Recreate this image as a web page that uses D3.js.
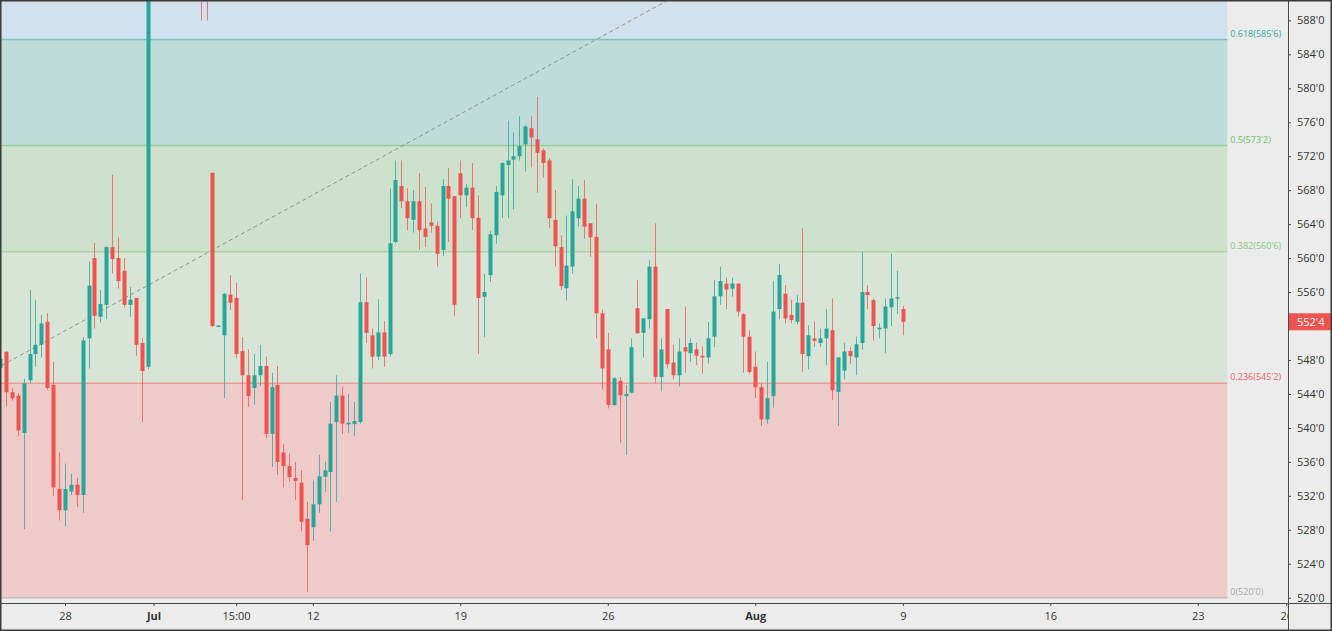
<!DOCTYPE html>
<html><head><meta charset="utf-8">
<script src="https://cdn.jsdelivr.net/npm/d3@7"></script>
<style>html,body{margin:0;padding:0;background:#ececec;overflow:hidden;} svg{display:block;}</style>
</head><body>
<svg id="c" width="1332" height="631"></svg>
<script>
// ---- data (bar index 0..153, ~5 bars per trading day) ----
const opens = [547.05,548.97,544.2,543.8,539.4,545.6,548.7,549.8,552.5,545.05,
532.8,530.3,532.5,533.3,532.1,550.55,560.0,553.1,554.5,561.3,
560.0,558.5,554.5,555.3,550.0,547.2,641,636,632,638,
634,624,628,610,602,596,570.05,552.0,550.9,555.7,
555.3,549.05,546.2,544.7,546.2,547.3,539.3,545.05,537.1,535.5,
534.1,533.55,529.3,528.3,531.0,534.25,534.8,540.7,543.8,540.5,
540.45,540.7,554.8,550.9,548.4,551.25,548.7,561.9,568.5,566.7,
564.5,566.7,563.5,564.2,563.8,560.95,568.5,567.3,570.0,567.4,
568.3,564.75,555.45,558.0,562.7,567.4,570.95,571.6,572.0,573.4,
575.3,574.0,572.7,571.5,564.5,561.3,556.45,559.0,564.7,567.0,
564.1,562.5,553.5,549.25,542.7,545.55,543.75,544.15,554.1,551.2,
552.8,559.0,546.0,554.0,547.7,546.2,549.5,548.8,549.25,548.5,
548.3,550.75,555.5,557.0,556.4,557.0,553.4,550.75,547.2,544.8,
541.0,543.75,554.0,555.8,553.3,552.5,554.75,548.45,550.55,550.0,
550.55,551.5,544.25,546.75,549.05,548.3,550.0,556.0,555.05,551.7,
551.7,554.2,555.3,554.0];
const highs = [548.9,549.0,544.7,544.1,545.8,556.3,555.1,553.3,553.5,547.8,
537.1,535.8,534.6,534.1,550.7,559.6,561.8,556.3,561.4,569.8,
562.45,560.0,556.6,555.3,550.55,652,648,644,640,646,
640,632,636,620,608,600,570.1,552.1,555.9,558.0,
557.1,550.7,549.25,548.7,549.8,548.4,546.5,547.3,538.1,537.0,
536.0,535.0,531.3,533.8,536.8,536.0,543.1,546.2,544.85,544.0,
543.1,558.2,557.7,551.7,555.15,552.6,568.2,571.5,571.5,568.2,
568.0,570.0,568.4,566.45,564.3,569.3,570.6,567.3,571.5,568.7,
571.2,567.4,558.2,563.2,568.5,571.3,576.2,574.8,576.7,575.7,
576.7,579.0,572.9,571.75,568.0,562.7,565.0,569.3,568.5,569.2,
564.1,566.4,553.95,551.2,546.0,546.0,545.05,550.55,557.4,552.9,
559.8,564.1,550.55,554.0,549.8,550.55,554.3,550.55,550.0,549.6,
552.5,557.4,559.0,557.7,557.7,557.0,553.5,551.5,549.0,545.25,
547.8,557.3,559.3,556.8,555.1,555.65,563.5,552.1,552.5,551.7,
554.0,555.25,548.3,550.0,549.55,550.75,560.75,556.8,555.25,552.3,
555.25,560.55,558.5,554.35];
const lows = [546.6,542.5,543.2,539.0,528.1,545.25,547.2,548.3,544.5,532.0,
529.1,528.4,532.1,530.7,530.0,547.0,551.7,552.4,552.8,558.2,
556.4,554.2,553.1,548.5,540.7,546.9,630,628,622,630,
618,612,604,596,588.0,588.0,551.9,551.9,543.5,553.9,
548.2,531.5,542.5,542.7,544.9,538.8,535.4,534.45,533.0,533.7,
531.5,527.8,520.7,526.7,530.0,532.5,527.8,531.3,539.3,539.4,
539.0,540.5,550.0,547.0,548.0,547.2,548.4,561.75,565.9,563.3,
563.0,561.0,561.3,563.0,559.0,560.25,561.9,553.2,564.7,566.0,
563.3,548.7,550.7,557.2,561.7,564.7,564.7,565.75,571.5,570.2,
570.7,567.7,569.5,563.5,559.0,556.25,555.0,558.2,563.7,562.3,
560.15,550.55,544.5,542.3,542.6,538.25,536.8,544.1,551.1,548.3,
551.7,545.25,544.3,547.0,545.7,544.9,546.5,547.8,547.4,546.4,
547.6,549.5,554.5,554.0,555.45,553.1,546.5,546.4,543.5,540.2,
540.5,542.4,552.8,552.3,552.3,552.2,546.6,546.9,549.55,549.55,
547.4,543.3,540.2,545.7,547.5,546.2,549.2,554.0,550.3,550.55,
548.8,552.0,553.4,550.9];
const closes = [548.1,544.2,543.5,539.7,545.25,548.7,549.8,552.3,544.7,533.0,
530.3,532.8,533.3,532.1,550.3,556.75,553.2,554.6,561.3,559.9,
557.3,554.5,555.1,549.8,546.7,641,636,632,638,634,
624,628,610,602,596,592,552.0,552.05,555.8,554.75,
548.7,546.2,543.75,546.2,547.3,539.3,544.8,536.0,535.5,534.2,
533.75,528.95,526.2,531.0,534.3,535.0,540.5,543.8,540.5,540.6,
540.8,554.8,551.2,548.4,551.25,548.4,561.75,569.2,566.7,564.7,
566.7,563.3,562.5,563.8,560.5,568.5,567.0,554.5,567.4,568.3,
564.7,555.3,556.0,562.8,567.8,571.2,571.5,572.0,573.2,575.5,
574.2,572.4,571.2,564.7,561.4,556.7,559.1,565.5,567.0,563.7,
562.45,553.5,547.0,542.7,545.85,543.85,544.0,549.5,551.15,552.9,
559.0,546.0,549.25,547.5,546.2,549.0,549.0,550.0,548.5,548.3,
550.55,555.5,557.3,556.3,557.0,553.7,550.75,546.6,544.8,541.0,
543.5,553.7,558.0,552.9,552.7,554.75,548.7,550.9,550.25,550.55,
551.7,544.45,548.3,549.0,548.45,549.85,556.0,555.65,552.0,551.8,
554.3,555.25,555.4,552.5];

const xTickIndex  = [11, 26, 40, 53, 78, 103, 128, 153, 178, 203, 218];
const xTickLabels = ["28","Jul","15:00","12","19","26","Aug","9","16","23","26"];
const xTickBold   = [false,true,false,false,false,false,true,false,false,false,false];
// 552'0 sits under the last-price tag in the reference, so it is not drawn
const yTicks = [520,524,528,532,536,540,544,548,556,560,564,568,572,576,580,584,588];

const fibLevels = [0, 0.236, 0.382, 0.5, 0.618, 0.786];
const fibPrices = [520, 545.25, 560.75, 573.25, 585.75, 603.75];
const fibLabels = ["0(520'0)","0.236(545'2)","0.382(560'6)","0.5(573'2)","0.618(585'6)",""];
const fibStart = {i: -71.5, p: 520};
const fibEnd   = {i: 208,   p: 626.5};
const lastPrice = 552.5;

// ---- styles ----
const zoneFills  = ["#eecac8","#d8e5d6","#cee1cc","#bedcd9","#d1e1ed"];
const lineColors = ["#bcbcbc","#ee9a97","#acd7ab","#98cd9c","#7cc3bf"];
const labelColors= ["#a8a8a8","#f0605d","#86c98a","#6cbd72","#2ea89b"];
const UP = "#26a69a", DOWN = "#ef5350";

const W = 1332, H = 631, plotRight = 1288, axisY = 603;
const svg = d3.select("#c");
const x = d3.scaleLinear().domain([0, 153]).range([0.1, 902.8]);
const y = d3.scaleLinear().domain([520, 588]).range([597.7, 20.4]);
const fmt = v => { const f = Math.floor(v); return f + "'" + Math.round((v - f) * 8); };

svg.append("rect").attr("width", W).attr("height", H).attr("fill", "#ececec");
const defs = svg.append("defs");
defs.append("clipPath").attr("id","plot").append("rect").attr("x",0).attr("y",0).attr("width",plotRight).attr("height",axisY);
defs.append("clipPath").attr("id","xax").append("rect").attr("x",0).attr("y",0).attr("width",plotRight).attr("height",H-axisY);

const plot = svg.append("g").attr("clip-path","url(#plot)");

// fib zones
const zx0 = x(fibStart.i), zx1 = x(fibEnd.i);
for (let k = 0; k < fibPrices.length - 1; k++) {
  plot.append("rect").attr("x", zx0).attr("width", zx1 - zx0)
    .attr("y", y(fibPrices[k+1])).attr("height", y(fibPrices[k]) - y(fibPrices[k+1]))
    .attr("fill", zoneFills[k]);
}
for (let k = 0; k < 5; k++) {
  plot.append("line").attr("x1", zx0).attr("x2", zx1)
    .attr("y1", y(fibPrices[k])).attr("y2", y(fibPrices[k]))
    .attr("stroke", lineColors[k]).attr("stroke-width", 1.5);
  plot.append("text").attr("x", zx1 + 3).attr("y", y(fibPrices[k]) - 3)
    .attr("font-family", "'Open Sans', sans-serif").attr("font-size", 9)
    .attr("fill", labelColors[k]).text(fibLabels[k]);
}
// fib trend line
plot.append("line").attr("x1", x(fibStart.i)).attr("y1", y(fibStart.p))
  .attr("x2", x(fibEnd.i)).attr("y2", y(fibEnd.p))
  .attr("stroke", "#8f9591").attr("stroke-width", 1).attr("stroke-dasharray", "4,3");

// candles
const idx = d3.range(opens.length);
plot.append("g").selectAll("line").data(idx).join("line")
  .attr("x1", i => Math.round(x(i)) + 0.5).attr("x2", i => Math.round(x(i)) + 0.5)
  .attr("y1", i => y(highs[i])).attr("y2", i => y(lows[i]))
  .attr("stroke", i => closes[i] >= opens[i] ? UP : DOWN).attr("stroke-opacity", 0.75).attr("stroke-width", 1);
plot.append("g").selectAll("rect").data(idx).join("rect")
  .attr("x", i => Math.round(x(i)) - 1.5).attr("width", 4)
  .attr("y", i => y(Math.max(opens[i], closes[i])))
  .attr("height", i => Math.max(1.5, Math.abs(y(opens[i]) - y(closes[i]))))
  .attr("fill", i => closes[i] >= opens[i] ? UP : DOWN);

// y axis
const yAxis = svg.append("g").attr("transform", `translate(${plotRight},0)`)
  .call(d3.axisRight(y).tickValues(yTicks).tickSize(3).tickPadding(6).tickFormat(fmt));
yAxis.select(".domain").remove();
yAxis.selectAll(".tick line").attr("stroke", "#444");
yAxis.selectAll(".tick text").attr("font-family", "'Open Sans', sans-serif").attr("font-size", 11).attr("fill", "#333");

// x axis
const xAxis = svg.append("g").attr("transform", `translate(0,${axisY})`).attr("clip-path","url(#xax)")
  .call(d3.axisBottom(x).tickValues(xTickIndex).tickSize(3).tickPadding(6).tickFormat((d, i) => xTickLabels[i]));
xAxis.select(".domain").remove();
xAxis.selectAll(".tick line").attr("stroke", "#444");
xAxis.selectAll(".tick text").attr("font-family", "'Open Sans', sans-serif").attr("font-size", 11).attr("fill", "#333")
  .attr("font-weight", (d, i) => xTickBold[i] ? "bold" : "normal");

// axis lines
svg.append("line").attr("x1", 0).attr("x2", W).attr("y1", axisY + 0.5).attr("y2", axisY + 0.5).attr("stroke", "#4a4a4a");
svg.append("line").attr("x1", plotRight + 0.5).attr("x2", plotRight + 0.5).attr("y1", 0).attr("y2", H).attr("stroke", "#4a4a4a");

// last price label
const ly = y(lastPrice);
svg.append("rect").attr("x", plotRight + 1).attr("y", ly - 8.5).attr("width", W - plotRight - 1).attr("height", 17).attr("fill", DOWN);
svg.append("text").attr("x", plotRight + 9).attr("y", ly).attr("dy", "0.35em")
  .attr("font-family", "'Open Sans', sans-serif").attr("font-size", 11).attr("fill", "#fff").text(fmt(lastPrice));

// frame
svg.append("rect").attr("x", 0.75).attr("y", 0.75).attr("width", W - 1.5).attr("height", H - 1.5)
  .attr("fill", "none").attr("stroke", "#3a3a3a").attr("stroke-width", 1.5);
</script>
</body></html>
